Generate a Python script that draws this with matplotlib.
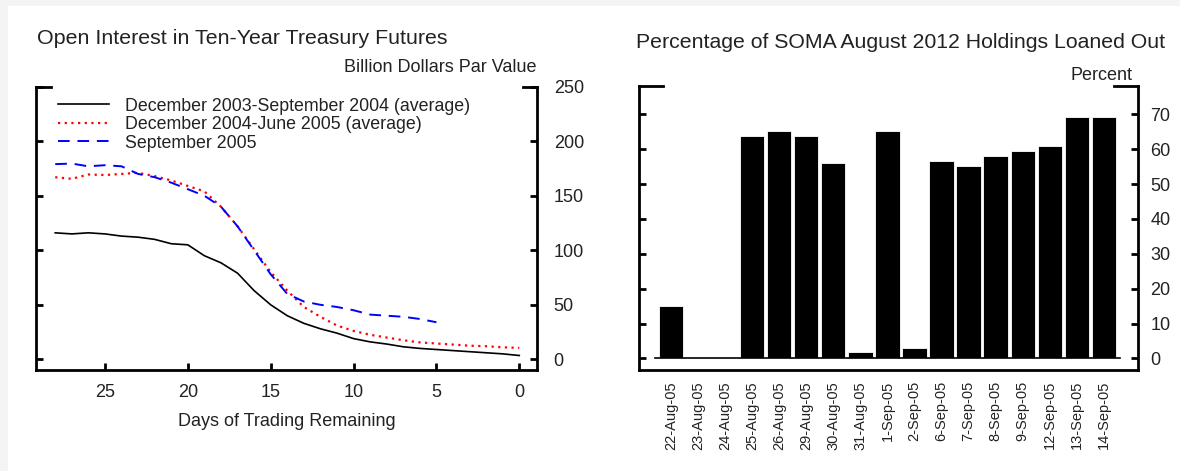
import matplotlib
matplotlib.use("Agg")
import matplotlib.pyplot as plt
from matplotlib.patches import Rectangle
import numpy as np

plt.rcParams['font.family'] = ['Liberation Sans', 'DejaVu Sans']

# ---------------- data ----------------
days_all = list(range(28, -1, -1))
dec03_sep04 = [116, 115, 116, 115, 113, 112, 110, 106, 105, 95, 88.5, 79, 63, 50,
               40, 33, 28, 24, 19, 16, 14, 11.5, 10, 9, 8, 7, 6, 5, 3.5]
dec04_jun05 = [167, 165.5, 169.5, 169, 170, 171, 168, 164, 159, 154, 140, 122, 101, 80,
               63, 48, 39, 31, 26, 22.5, 20, 17.5, 15.5, 14.5, 13.5, 12.5, 12, 11, 10.5]
days_sep05 = list(range(28, 4, -1))
sep05 = [179, 179.5, 177, 178, 177, 170, 167, 162, 156, 150, 140, 122, 100, 78,
         60, 53, 50, 48, 45, 41, 40, 39, 37, 34]
legend_labels = ["December 2003-September 2004 (average)",
                 "December 2004-June 2005 (average)",
                 "September 2005"]

dates = ["22-Aug-05", "23-Aug-05", "24-Aug-05", "25-Aug-05", "26-Aug-05", "29-Aug-05",
         "30-Aug-05", "31-Aug-05", "1-Sep-05", "2-Sep-05", "6-Sep-05", "7-Sep-05",
         "8-Sep-05", "9-Sep-05", "12-Sep-05", "13-Sep-05", "14-Sep-05"]
pct_loaned = [15, 0, 0, 63.7, 65.3, 63.7, 55.9, 1.9, 65.3, 3.1, 56.7, 55.1,
              57.9, 59.4, 61, 69.2, 69.2]

left_yticks = [0, 50, 100, 150, 200, 250]
left_xticks = [25, 20, 15, 10, 5, 0]
right_yticks = [0, 10, 20, 30, 40, 50, 60, 70]

# ---------------- figure ----------------
W, H = 1180, 471
fig = plt.figure(figsize=(W / 100, H / 100), dpi=100)
fig.patch.set_facecolor('#f4f4f4')
bg = Rectangle((8 / W, 0), 1 - 8 / W, (H - 6) / H, transform=fig.transFigure,
               facecolor='white', edgecolor='none', zorder=-10)
fig.patches.append(bg)

def fr(x0, y0, x1, y1):
    return [x0 / W, 1 - y1 / H, (x1 - x0) / W, (y1 - y0) / H]

SPW = 2.0
TXT = '#222222'
TICK_FS = 13

def style_axes(ax, lstub, rstub, pad):
    ax.set_facecolor('none')
    ax.spines['top'].set_visible(False)
    for s in ['left', 'right', 'bottom']:
        ax.spines[s].set_linewidth(SPW)
        ax.spines[s].set_color('black')
    ax.plot([0, lstub], [1, 1], color='black', lw=SPW, transform=ax.transAxes,
            clip_on=False, solid_capstyle='projecting')
    ax.plot([1 - rstub, 1], [1, 1], color='black', lw=SPW, transform=ax.transAxes,
            clip_on=False, solid_capstyle='projecting')
    ax.tick_params(axis='y', which='both', direction='in', length=5, width=SPW,
                   left=True, right=True, labelleft=False, labelright=True,
                   labelsize=TICK_FS, labelcolor=TXT, pad=pad)

# ---------- left chart ----------
ax1 = fig.add_axes(fr(36, 86.7, 537, 370))
ax1.set_zorder(2)
style_axes(ax1, 0.03, 0.028, 12)
ax1.plot(days_all, dec03_sep04, color='black', lw=1.2, label=legend_labels[0])
ax1.plot(days_all, dec04_jun05, color='red', lw=1.6, linestyle=(0, (1, 2)),
         label=legend_labels[1])
ax1.plot(days_sep05, sep05, color='blue', lw=1.4, linestyle=(0, (6, 4)),
         label=legend_labels[2])
ax1.set_xlim(29.16, -1.07)
ax1.set_ylim(-9.8, 250)
ax1.set_yticks(left_yticks)
ax1.set_xticks(left_xticks)
ax1.tick_params(axis='x', direction='in', length=5, width=SPW, labelsize=TICK_FS,
                labelcolor=TXT, pad=10)
ax1.set_xlabel("Days of Trading Remaining", fontsize=TICK_FS, color=TXT, labelpad=9)
leg = ax1.legend(loc='upper left', frameon=False, fontsize=12.8, handlelength=2.85,
                 labelspacing=0.08, handletextpad=0.95, borderaxespad=0.0, borderpad=0.3,
                 bbox_to_anchor=(0.033, 0.98))
for t in leg.get_texts():
    t.set_color(TXT)
fig.text(37 / W, 1 - 38 / H, "Open Interest in Ten-Year Treasury Futures",
         fontsize=15.4, color=TXT, ha='left', va='center')
fig.text(537 / W, 1 - 67 / H, "Billion Dollars Par Value",
         fontsize=13, color=TXT, ha='right', va='center')

# ---------- right chart ----------
ax2 = fig.add_axes(fr(639, 86, 1137.7, 370))
ax2.set_zorder(2)
style_axes(ax2, 0.048, 0.048, 9)
x = np.arange(len(dates))
ax2.bar(x, pct_loaned, width=0.9, color='black', edgecolor='white', linewidth=0.6,
        zorder=2)
ax2.plot([x[0] - 0.6, x[-1] + 0.6], [0, 0], color='black', lw=1.2, zorder=3)
ax2.set_xlim(-1.18, len(dates) - 1 + 1.25)
ax2.set_ylim(-3.3, 78.1)
ax2.set_yticks(right_yticks)
ax2.set_xticks(x)
ax2.set_xticklabels(dates, rotation=90, fontsize=10.5, color=TXT)
ax2.tick_params(axis='x', length=0, pad=8)
fig.text(901 / W, 1 - 43 / H, "Percentage of SOMA August 2012 Holdings Loaned Out",
         fontsize=15.3, color=TXT, ha='center', va='center')
fig.text(1133 / W, 1 - 75 / H, "Percent",
         fontsize=13, color=TXT, ha='right', va='center')

fig.savefig("out.png", dpi=100)
